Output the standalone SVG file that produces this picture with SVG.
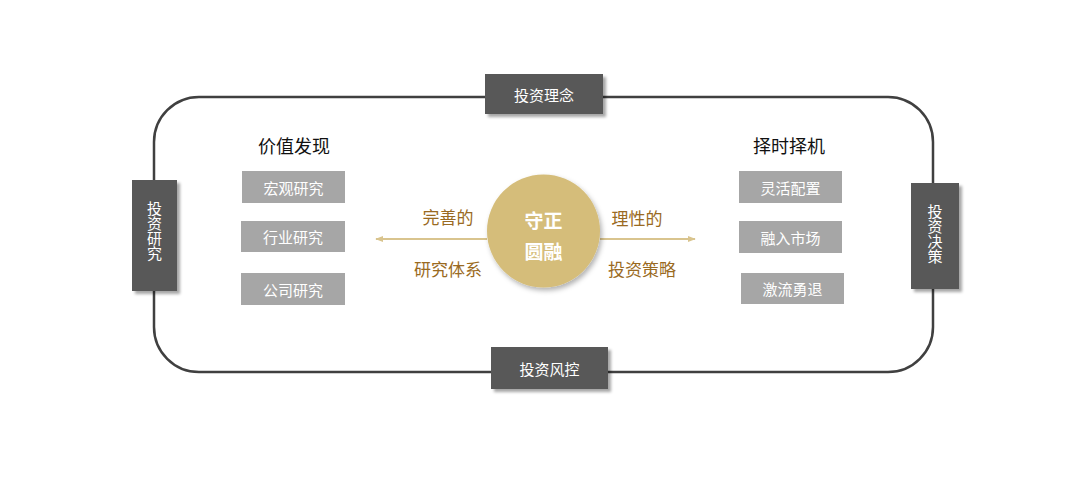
<svg xmlns="http://www.w3.org/2000/svg" width="1081" height="478" viewBox="0 0 1081 478">
<style>
text{font-family:"Microsoft YaHei","Noto Sans CJK SC","Liberation Sans",sans-serif;}
.dark{fill:#595959;}
.gray{fill:#a6a6a6;}
.wt{fill:#ffffff;font-size:15px;text-anchor:middle;dominant-baseline:central;}
.vt{fill:#ffffff;font-size:15px;text-anchor:middle;writing-mode:vertical-rl;}
.hd{fill:#111111;font-size:18px;text-anchor:middle;dominant-baseline:central;}
.gd{fill:#9a6a22;font-size:17px;text-anchor:middle;dominant-baseline:central;}
.ct{fill:#ffffff;font-size:19px;font-weight:bold;text-anchor:middle;dominant-baseline:central;}
</style>
<defs>
<filter id="sh" x="-20%" y="-20%" width="150%" height="150%">
<feDropShadow dx="3" dy="3" stdDeviation="1.5" flood-color="#000" flood-opacity="0.35"/>
</filter>
<filter id="sh2" x="-20%" y="-20%" width="150%" height="150%">
<feDropShadow dx="2" dy="3" stdDeviation="2.5" flood-color="#000" flood-opacity="0.3"/>
</filter>
<marker id="ah" viewBox="0 0 10 10" refX="9" refY="5" markerWidth="8" markerHeight="8" markerUnits="userSpaceOnUse" orient="auto-start-reverse">
<path d="M0,1 L10,5 L0,9 z" fill="#d9c48e"/>
</marker>
</defs>
<rect width="1081" height="478" fill="#ffffff"/>
<g id="connectors">
<rect x="154" y="97" width="779" height="275" rx="45" ry="45" fill="none" stroke="#404040" stroke-width="2.5"/>
<line x1="487" y1="239" x2="376" y2="239" stroke="#d9c48e" stroke-width="2" marker-end="url(#ah)"/>
<line x1="600" y1="239" x2="695" y2="239" stroke="#d9c48e" stroke-width="2" marker-end="url(#ah)"/>
</g>
<g id="top-node"><rect x="485" y="74" width="118" height="40" class="dark" filter="url(#sh)"/><text x="544" y="94" class="wt">投资理念</text></g>
<g id="bottom-node"><rect x="491" y="347" width="117" height="42" class="dark" filter="url(#sh)"/><text x="549.5" y="368" class="wt">投资风控</text></g>
<g id="left-node"><rect x="132" y="180" width="45" height="111" class="dark" filter="url(#sh)"/>
<text x="154.5" y="231" class="vt">投资研究</text></g>
<g id="right-node"><rect x="911" y="183" width="48" height="106" class="dark" filter="url(#sh)"/>
<text x="935" y="234" class="vt">投资决策</text></g>
<g id="value-title"><text x="294" y="145" class="hd">价值发现</text></g>
<g id="timing-title"><text x="789" y="145" class="hd">择时择机</text></g>
<g id="macro"><rect x="242" y="171" width="103" height="32" class="gray"/><text x="293.5" y="187" class="wt">宏观研究</text></g>
<g id="industry"><rect x="241" y="221" width="104" height="31" class="gray"/><text x="293" y="236.5" class="wt">行业研究</text></g>
<g id="company"><rect x="241" y="273" width="104" height="32" class="gray"/><text x="293" y="289" class="wt">公司研究</text></g>
<g id="flex"><rect x="739" y="171" width="103" height="32" class="gray"/><text x="790.5" y="187" class="wt">灵活配置</text></g>
<g id="market"><rect x="739" y="221" width="103" height="32" class="gray"/><text x="790.5" y="237" class="wt">融入市场</text></g>
<g id="retreat"><rect x="741" y="273" width="103" height="31" class="gray"/><text x="792.5" y="288.5" class="wt">激流勇退</text></g>
<g id="center"><circle cx="543.5" cy="231" r="56.5" fill="#d5bd7a" filter="url(#sh2)"/>
<text x="543.5" y="219" class="ct">守正</text><text x="543.5" y="250" class="ct">圆融</text></g>
<g id="left-labels"><text x="448" y="216" class="gd">完善的</text><text x="448" y="268" class="gd">研究体系</text></g>
<g id="right-labels"><text x="637" y="217" class="gd">理性的</text><text x="642" y="268" class="gd">投资策略</text></g>
</svg>
